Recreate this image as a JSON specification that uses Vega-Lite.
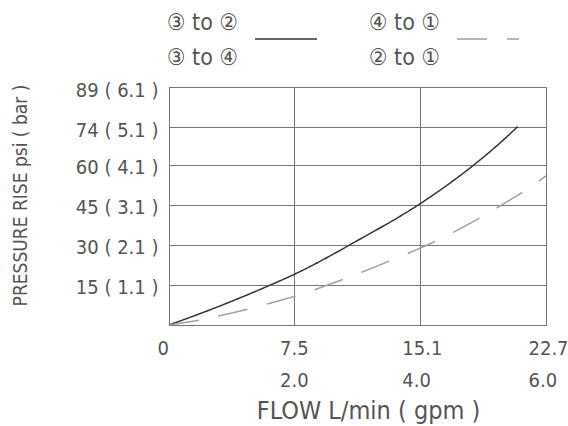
{
  "$schema": "https://vega.github.io/schema/vega-lite/v6.json",
  "width": 377,
  "height": 238,
  "autosize": {"type": "none"},
  "padding": {"left": 169, "top": 87, "right": 22, "bottom": 101},
  "background": "white",
  "config": {
    "view": {"stroke": "#777", "strokeWidth": 1},
    "font": "DejaVu Sans Condensed"
  },
  "data": {
    "values": [
      {"path": "A", "flow": 0, "psi": 0},
      {"path": "A", "flow": 2.44, "psi": 5.6},
      {"path": "A", "flow": 5.75, "psi": 14.0},
      {"path": "A", "flow": 7.56, "psi": 19.0},
      {"path": "A", "flow": 11.47, "psi": 32.0},
      {"path": "A", "flow": 15.08, "psi": 45.2},
      {"path": "A", "flow": 18.1, "psi": 58.6},
      {"path": "A", "flow": 19.7, "psi": 66.8},
      {"path": "A", "flow": 21.0, "psi": 74.2},
      {"path": "B", "flow": 0, "psi": 0},
      {"path": "B", "flow": 1.54, "psi": 1.5},
      {"path": "B", "flow": 2.64, "psi": 2.9},
      {"path": "B", "flow": 4.91, "psi": 6.2},
      {"path": "B", "flow": 5.99, "psi": 8.0},
      {"path": "B", "flow": 8.16, "psi": 11.9},
      {"path": "B", "flow": 9.26, "psi": 14.3},
      {"path": "B", "flow": 11.47, "psi": 19.4},
      {"path": "B", "flow": 12.43, "psi": 21.8},
      {"path": "B", "flow": 14.58, "psi": 27.3},
      {"path": "B", "flow": 15.58, "psi": 30.0},
      {"path": "B", "flow": 17.59, "psi": 36.2},
      {"path": "B", "flow": 18.59, "psi": 39.6},
      {"path": "B", "flow": 20.54, "psi": 46.8},
      {"path": "B", "flow": 21.51, "psi": 50.5},
      {"path": "B", "flow": 22.7, "psi": 55.8}
    ]
  },
  "mark": {"type": "line", "interpolate": "monotone", "strokeWidth": 1.5},
  "encoding": {
    "x": {
      "field": "flow",
      "type": "quantitative",
      "scale": {"domain": [0, 22.7], "nice": false},
      "axis": {
        "values": [0, 7.5, 15.1, 22.7],
        "title": "FLOW L/min ( gpm )",
        "grid": true,
        "gridColor": "#777",
        "gridOpacity": 1,
        "domain": false,
        "ticks": false,
        "labelOverlap": false,
        "labelFlush": false,
        "labelFont": "DejaVu Sans Condensed",
        "labelFontSize": 20,
        "labelColor": "#555",
        "labelLineHeight": 32,
        "labelPadding": 13,
        "labelAlign": "left",
        "labelOffset": {"expr": "datum.value == 0 ? -12 : (datum.value == 15.1 ? -18 : (datum.value > 20 ? -18 : -14))"},
        "labelExpr": "datum.value == 0 ? '0' : [format(datum.value, '.1f'), format(datum.value / 3.785, '.1f')]",
        "titleFont": "DejaVu Sans Condensed",
        "titleFontSize": 25,
        "titleFontWeight": "normal",
        "titleColor": "#555",
        "titleX": 199,
        "titleY": 85,
        "titleBaseline": "middle"
      }
    },
    "y": {
      "field": "psi",
      "type": "quantitative",
      "scale": {"domain": [0, 89], "nice": false},
      "axis": {
        "values": [15, 30, 45, 60, 74, 89],
        "title": "PRESSURE RISE psi ( bar )",
        "grid": true,
        "gridColor": "#777",
        "gridOpacity": 1,
        "domain": false,
        "ticks": false,
        "labelFont": "DejaVu Sans Condensed",
        "labelFontSize": 20,
        "labelColor": "#555",
        "labelPadding": 11,
        "labelOffset": 3,
        "labelExpr": "datum.value + ' ( ' + format(round(datum.value / 14.8) + 0.1, '.1f') + ' )'",
        "titleFont": "DejaVu Sans Condensed",
        "titleFontSize": 19,
        "titleFontWeight": "normal",
        "titleColor": "#555",
        "titleX": -149,
        "titleY": 108,
        "titleAngle": -90,
        "titleAlign": "center",
        "titleBaseline": "middle"
      }
    },
    "color": {
      "field": "path",
      "type": "nominal",
      "scale": {"domain": ["A", "B"], "range": ["#333333", "#a0a0a0"]},
      "legend": {
        "title": null,
        "orient": "none",
        "legendX": 85,
        "legendY": -80,
        "direction": "horizontal",
        "symbolType": "stroke",
        "symbolSize": 3844,
        "symbolStrokeWidth": 1.5,
        "labelExpr": "datum.value == 'A' ? ['③ to ②', '③ to ④'] : ['④ to ①', '② to ①']",
        "labelFont": "DejaVu Sans Condensed",
        "labelFontSize": 23,
        "labelColor": "#555",
        "labelAlign": "right",
        "labelOffset": -80,
        "columnPadding": 48,
        "labelLimit": 0,
        "encode": {
          "labels": {"update": {"lineHeight": {"value": 35}, "dy": {"value": -16}}},
          "symbols": {"update": {"strokeDash": {"signal": "datum.value == 'B' ? [18, 22] : [1, 0]"}}}
        }
      }
    },
    "strokeDash": {
      "field": "path",
      "type": "nominal",
      "scale": {"domain": ["A", "B"], "range": [[1, 0], [30, 20]]},
      "legend": {
        "title": null,
        "orient": "none",
        "legendX": 85,
        "legendY": -80,
        "direction": "horizontal",
        "symbolType": "stroke",
        "symbolSize": 3844,
        "symbolStrokeWidth": 1.5,
        "labelExpr": "datum.value == 'A' ? ['③ to ②', '③ to ④'] : ['④ to ①', '② to ①']",
        "labelFont": "DejaVu Sans Condensed",
        "labelFontSize": 23,
        "labelColor": "#555",
        "labelAlign": "right",
        "labelOffset": -80,
        "columnPadding": 48,
        "labelLimit": 0,
        "encode": {
          "labels": {"update": {"lineHeight": {"value": 35}, "dy": {"value": -16}}},
          "symbols": {"update": {"strokeDash": {"signal": "datum.value == 'B' ? [18, 22] : [1, 0]"}}}
        }
      }
    }
  }
}
